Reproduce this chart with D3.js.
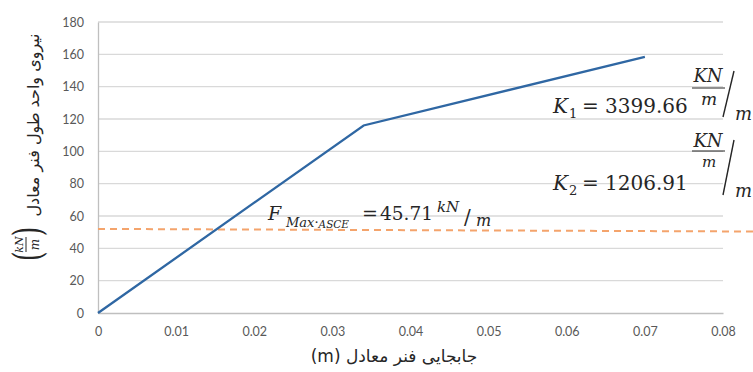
<!DOCTYPE html>
<html>
<head>
<meta charset="utf-8">
<script src="https://cdn.jsdelivr.net/npm/d3@7"></script>
<style>
  body { margin: 0; background: #fff; }
  .tick text { font-family: Lato, "Open Sans", sans-serif; font-size: 12.5px; fill: #595959; }
  .math { font-family: "DejaVu Serif", "Liberation Serif", serif; fill: #262626; }
</style>
</head>
<body>
<div id="chart"></div>
<script>
// spring force vs displacement

    // data
    const dispM = [0, 0.034, 0.07];
    const forceKN = [0, 116, 158.5];
    const fmaxDisp = [0, 0.084];
    const fmaxForce = [52, 50.4];
    const xTicks = [0, 0.01, 0.02, 0.03, 0.04, 0.05, 0.06, 0.07, 0.08];
    const yTicks = [0, 20, 40, 60, 80, 100, 120, 140, 160, 180];

    const W = 753, H = 372;
    const padL = 98, padR = 723, padT = 22, padB = 313;

    const x = d3.scaleLinear().domain([0, 0.08]).range([padL, padR]);
    const y = d3.scaleLinear().domain([0, 180]).range([padB, padT]);

    const svg = d3.select("#chart").append("svg")
        .attr("width", W)
        .attr("height", H);

    // gridlines
    svg.append("g")
        .selectAll("line")
        .data(yTicks.filter(d => d > 0))
        .enter().append("line")
        .attr("x1", padL).attr("x2", padR)
        .attr("y1", d => y(d)).attr("y2", d => y(d))
        .attr("stroke", "#d9d9d9")
        .attr("stroke-width", 1.3);

    // axes
    const xAxis = d3.axisBottom(x).tickValues(xTicks).tickSize(0).tickPadding(14)
        .tickFormat(d => d === 0 ? "0" : d3.format(".2f")(d));
    const gx = svg.append("g")
        .attr("transform", "translate(0," + padB + ")")
        .call(xAxis);
    gx.select(".domain").attr("stroke", "#bfbfbf").attr("stroke-width", 1.3);

    const yAxis = d3.axisLeft(y).tickValues(yTicks).tickSize(0).tickPadding(14);
    const gy = svg.append("g")
        .attr("transform", "translate(" + padL + ",0)")
        .call(yAxis);
    gy.select(".domain").attr("stroke", "#bfbfbf").attr("stroke-width", 1.3);

    // fmax dashed line
    const fmaxPts = fmaxDisp.map((d, i) => [d, fmaxForce[i]]);
    svg.append("path")
        .datum(fmaxPts)
        .attr("d", d3.line().x(d => x(d[0])).y(d => y(d[1])))
        .attr("fill", "none")
        .attr("stroke", "#f4a46c")
        .attr("stroke-width", 2)
        .attr("stroke-dasharray", "7,5");

    // spring curve
    const pts = dispM.map((d, i) => [d, forceKN[i]]);
    svg.append("path")
        .datum(pts)
        .attr("d", d3.line().x(d => x(d[0])).y(d => y(d[1])))
        .attr("fill", "none")
        .attr("stroke", "#2f67a3")
        .attr("stroke-width", 2.3);

    // small helper for math text pieces
    function mt(parent, px, py, size, str, italic, anchor) {
        return parent.append("text").attr("class", "math")
            .attr("x", px).attr("y", py)
            .attr("font-size", size)
            .attr("font-style", italic ? "italic" : "normal")
            .attr("text-anchor", anchor || "start")
            .text(str);
    }

    // K annotations
    function kLabel(sub, val, base, knBase, barY, mBase, mSize, slashTop, slashBot, msBase) {
        mt(svg, 553, base, 20, "K", true);
        mt(svg, 569, base + 5, 13, sub, false);
        mt(svg, 582, base, 20, "=", false);
        mt(svg, 605, base, 20, val, false);
        mt(svg, 708, knBase, 18, "KN", true, "middle");
        svg.append("line")
            .attr("x1", 692).attr("x2", 725).attr("y1", barY).attr("y2", barY)
            .attr("stroke", "#262626").attr("stroke-width", 1);
        mt(svg, 709, mBase, mSize, "m", true, "middle");
        svg.append("line")
            .attr("x1", 734).attr("y1", slashTop).attr("x2", 723).attr("y2", slashBot)
            .attr("stroke", "#262626").attr("stroke-width", 1.4);
        mt(svg, 735, msBase, 18, "m", true);
    }
    kLabel("1", "3399.66", 113, 82, 88, 105, 17, 71, 117, 120);
    kLabel("2", "1206.91", 190, 147, 151, 167, 15, 140, 195, 197);

    // Fmax annotation
    mt(svg, 268, 220, 19, "F", true);
    const sub = mt(svg, 286, 227, 13, "", true);
    sub.append("tspan").text("Max");
    sub.append("tspan").attr("font-style", "normal").text("·");
    sub.append("tspan").attr("font-size", 10.5).attr("dy", 1).text("ASCE");
    mt(svg, 362, 220, 19, "=", false);
    mt(svg, 380, 220, 18.5, "45.71", false);
    mt(svg, 437, 212, 15, "kN", true);
    mt(svg, 464, 224, 20, "/", false);
    mt(svg, 476, 226, 16, "m", true);

    // x title
    svg.append("text")
        .attr("x", 394).attr("y", 362)
        .attr("text-anchor", "middle")
        .attr("direction", "rtl")
        .style("font-family", "'DejaVu Sans', sans-serif")
        .style("font-size", "17px")
        .attr("fill", "#262626")
        .text("جابجایی فنر معادل (m)");

    // y title
    const gt = svg.append("g").attr("transform", "translate(33,0) rotate(-90)");
    gt.append("text")
        .attr("x", -125).attr("y", 6)
        .attr("text-anchor", "middle")
        .attr("direction", "rtl")
        .style("font-family", "'DejaVu Sans', sans-serif")
        .style("font-size", "16px")
        .attr("fill", "#262626")
        .text("نیروی واحد طول فنر معادل");
    // tall thin brackets
    mt(gt, 0, 0, 40, "(", false).attr("transform", "translate(-261,7.5) scale(0.6,1)");
    mt(gt, 0, 0, 40, ")", false, "end").attr("transform", "translate(-227,7.5) scale(0.6,1)");
    mt(gt, -244.5, -10, 11, "kN", true, "middle");
    gt.append("line")
        .attr("x1", -252).attr("x2", -237).attr("y1", -7).attr("y2", -7)
        .attr("stroke", "#262626").attr("stroke-width", 1);
    mt(gt, -244.5, 6, 12, "m", true, "middle");

    // end of chart
</script>
</body>
</html>
